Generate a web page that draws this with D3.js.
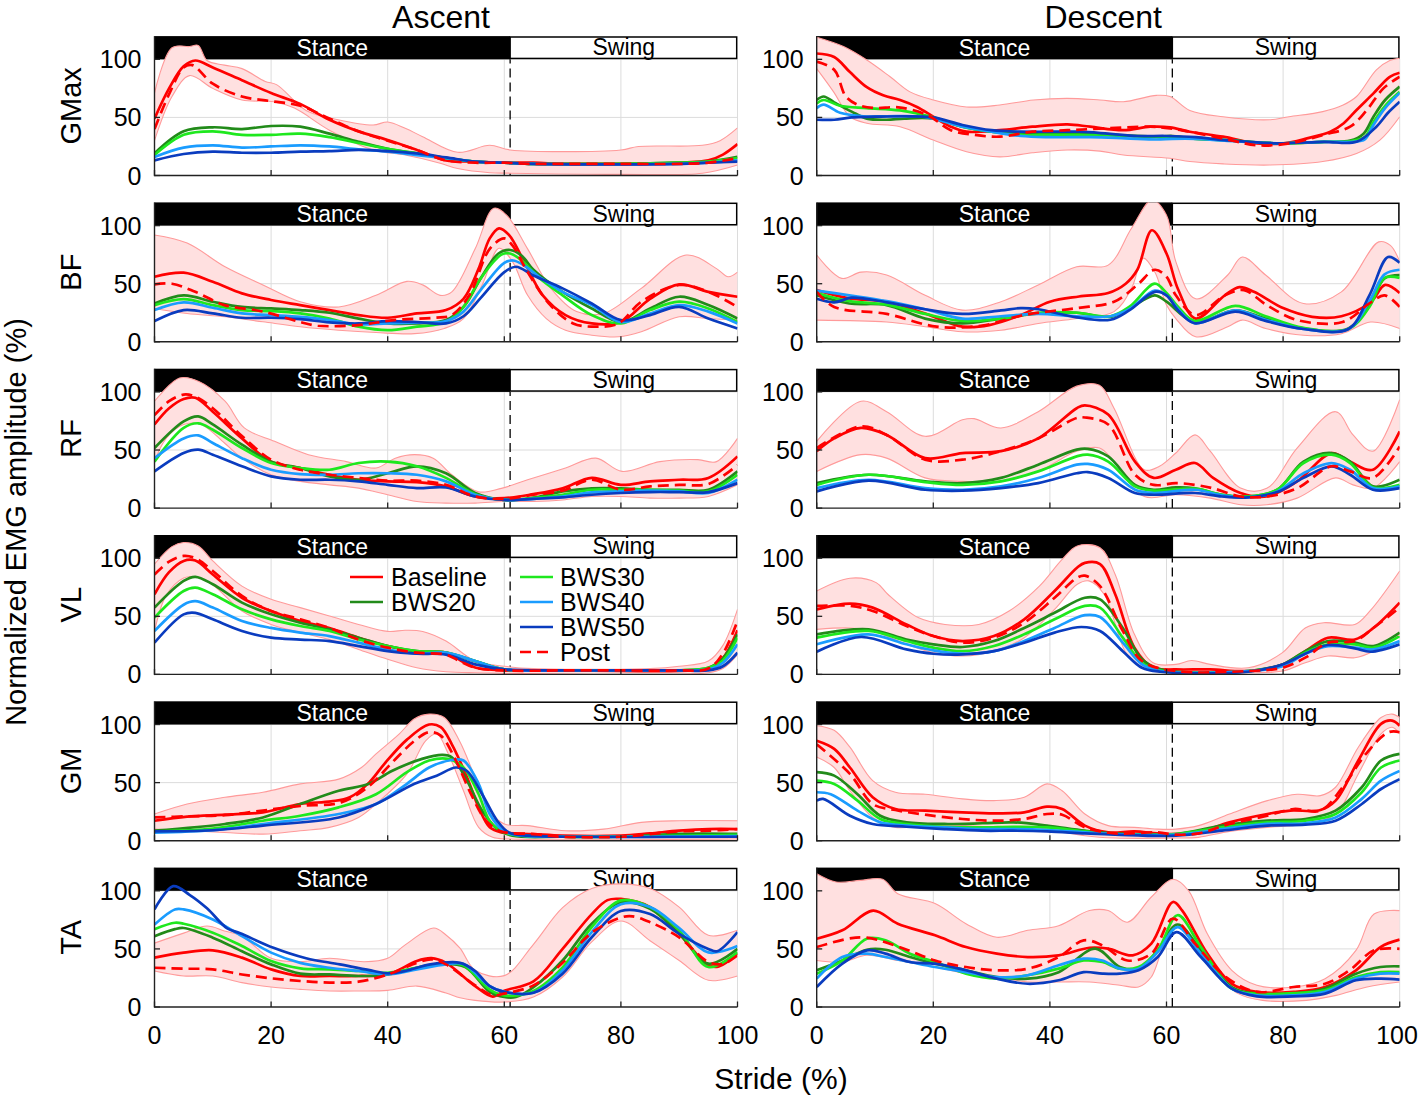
<!DOCTYPE html>
<html><head><meta charset="utf-8">
<script src="https://cdn.jsdelivr.net/npm/d3@7"></script>
<style>body{margin:0;background:#fff}text{font-family:"Liberation Sans",Arial,Helvetica,sans-serif}</style>
</head><body>
<svg id="c" width="1418" height="1096"></svg>
<script>
// ---------- categories / labels ----------
const muscles = ["GMax","BF","RF","VL","GM","TA"];
const tasks = ["Ascent","Descent"];
const taskKeys = ["A","D"];
const seriesNames = ["Baseline","BWS20","BWS30","BWS40","BWS50","Post"];
const xTicks = [0,20,40,60,80,100];
const yTicks = [0,50,100];
const phases = [{name:"Stance",from:0,to:61},{name:"Swing",from:61,to:100}];
const toeOff = 61;

// ---------- data: [stride %, normalized EMG %] ----------
const GMax_A_Baseline=[[0,49],[2.5,75],[5,94],[7,99],[10,93],[15,82],[20,71],[25,61.5],[30,48],[35,38],[40,30.5],[45,22],[50,13],[55,12],[60,11],[65,11],[70,10],[75,10],[80,10],[85,10],[90,11],[95,13],[97.5,18],[100,27]];
const GMax_A_BWS20=[[0,19],[5,38],[10,41.5],[15,40],[20,42.6],[25,42],[30,36],[35,29],[40,23],[45,19],[50,15],[55,12],[60,11],[65,10],[70,10],[80,10],[90,11],[95,12],[100,16]];
const GMax_A_BWS30=[[0,17.6],[5,35],[10,38],[15,35],[20,35],[25,36],[30,33],[35,28],[40,23],[45,19],[50,15],[55,12],[60,11],[65,10],[80,10],[90,11],[95,12],[100,15]];
const GMax_A_BWS40=[[0,16],[5,24],[10,26],[15,24],[20,25],[25,26],[30,25],[35,22.5],[40,20.5],[45,17.6],[50,15],[55,12],[60,11],[65,10],[90,10],[95,11],[100,13]];
const GMax_A_BWS50=[[0,13],[5,18.5],[10,20.5],[15,19.6],[20,19.6],[25,20.5],[30,21],[35,22],[40,21],[45,19],[50,15.6],[55,12],[60,11],[65,10],[90,10],[95,11],[100,12]];
const GMax_A_Post=[[0,40],[2.5,70],[5,93],[6.5,95],[10,79],[15,68],[20,64],[25,60],[30,49],[35,38],[40,30],[45,22],[50,13],[55,11],[60,11],[65,10],[70,10],[80,10],[90,10],[95,11],[100,15]];
const GMax_A_Upper=[[0,71],[3,110],[6,111],[7.5,112],[9,99],[12,95],[15,92],[19,81],[21,78],[26,56],[31.5,48],[37.5,43.5],[40,46],[43,40.6],[46,33.4],[52,20],[57.5,26],[61,22],[80,22],[83,25],[94,26],[97,30],[100,41]];
const GMax_A_Lower=[[0,30],[3,68],[6,86],[10,75],[15,65],[20.4,63.5],[24,58],[30,39],[37.5,22],[43,17.6],[49,10.5],[52,6],[57.5,2.4],[61,2],[80,1],[94,2],[100,9]];

const GMax_D_Baseline=[[0,105],[3,102],[5.7,89],[8.6,76],[11.4,69],[14.3,65],[17.2,59],[20,50.6],[23,42],[25.7,37.7],[31.4,39],[37,42],[43,44],[46.9,42],[52.6,39],[57.2,42],[60.6,41.5],[64,37.7],[69.7,33.4],[75.5,27.7],[80.1,27.7],[84.1,32],[88.1,37.7],[90.4,45],[92.6,56.4],[95.5,70.7],[98.3,85],[100,88.5]];
const GMax_D_BWS20=[[0,65],[1.2,68],[3,63],[6,55],[8.6,49],[12,48],[15,49],[20,49],[25,42],[30,37.7],[35,36],[40,36],[47,36],[53,34.5],[58.3,33.4],[61,34],[64,32],[70,30.5],[79,27.7],[87,29],[91.5,30],[93.8,36],[95.5,50.6],[97.5,65],[100,76.5]];
const GMax_D_BWS30=[[0,62],[1.2,65],[4,60],[8.6,58],[14.3,56],[20,50],[25,42],[30,37.7],[35,35],[40,35],[47,35],[53,34],[58.3,33],[61,33.5],[64,32],[70,30.5],[79,27.7],[87,29],[91.5,29.5],[94,33],[95.5,46],[97.5,60],[100,72]];
const GMax_D_BWS40=[[0,58],[1.2,61],[4,54],[8,51],[12,51],[17,51],[20,49],[25,42],[30,37.7],[35,34],[40,33],[47,33],[53,32],[58.3,31],[61,31.5],[65,31.5],[70,30],[79,27.7],[87,29],[92,29],[94,31],[95.5,43.5],[97.5,58],[100,71]];
const GMax_D_BWS50=[[0,48],[3,48],[6,50],[10,50.6],[15,51],[20,50],[25,43.5],[30,39],[35,37.7],[40,37.7],[45,37.7],[50,36],[55,34],[60,34],[65,33],[70,30.5],[79,27.7],[87,29],[92.6,29],[96,42],[98,54],[100,63.5]];
const GMax_D_Post=[[0,98],[3,91],[5,68],[7,61],[10,58],[14,58.7],[19,52],[23,39],[27,35],[31.4,33.4],[37,37.7],[43,39],[49.7,40.6],[57.2,42],[60.6,40.6],[64,37.7],[70.9,30.5],[75.5,26],[81.2,27.7],[86.9,35],[91.5,42],[94.3,56],[97.2,75],[100,85]];
const GMax_D_Upper=[[0,119],[4.6,111],[8.6,99.4],[12.6,85],[16,72],[20,65],[25.7,59],[31.4,60.7],[37.2,65],[42.9,66.4],[48.6,65],[52.6,63.5],[58.3,69],[60.6,68],[64,56],[69.7,50.6],[77.7,48],[81,50.6],[86.8,55],[90.3,60.7],[92.6,68],[96,91],[98.3,99],[100,101]];
const GMax_D_Lower=[[0,92],[2.9,72],[5.7,50.6],[8.6,45],[14.3,42],[20,30.5],[25.7,20.5],[31.4,16],[37,19.6],[43,22],[48.6,21],[52.6,17.6],[60.6,14.8],[64,12],[69.7,10],[77.7,9],[86.8,12],[92.6,19],[96.6,30.5],[100,50.6]];

const BF_A_Baseline=[[0,56],[5,59.5],[10,51.7],[15,41.7],[20,36],[25,31.6],[30,27.3],[35,23],[40,20.7],[45,24.4],[50,27.3],[53,37],[55.6,63],[57.5,89],[59.1,97.7],[60.8,92],[63.4,69],[66.6,40],[70.5,23],[75,15.8],[80,17],[85,37],[90,49.4],[95,43],[100,38.8]];
const BF_A_BWS20=[[0,33],[5,40],[10,34.5],[15,30],[20,28.7],[25,27.3],[30,25],[35,20],[40,15.8],[45,15.8],[50,18.7],[53,30],[56,55],[59,76],[61,79],[63,74],[65,62],[70,43],[75,28.7],[80,17],[85,28.7],[90,38.8],[95,31.6],[100,20]];
const BF_A_BWS30=[[0,31.6],[5,36.8],[10,31.6],[15,27.3],[20,26.4],[25,24.4],[30,20],[35,13],[40,10],[45,13],[50,17],[53,30],[56,55],[59.5,75],[61,76],[63,70],[66,55],[70,40],[75,23],[80,15.8],[85,27.3],[90,34.5],[95,28.7],[100,17]];
const BF_A_BWS40=[[0,27.3],[5,34],[10,29.3],[15,24.4],[20,23],[25,21.5],[30,18.7],[35,15],[40,15.8],[45,16.4],[50,17.8],[53,26],[56,45],[60,68],[61.5,70],[63,67],[66,56],[70,43],[75,31.6],[80,17],[85,24.4],[90,31.6],[95,26],[100,15.8]];
const BF_A_BWS50=[[0,17.8],[5,27.3],[10,24.4],[15,20.7],[20,20.7],[25,19.5],[30,16.7],[35,15.8],[40,17.8],[45,17],[50,15.8],[53,22],[56,38],[60,60],[62,64.6],[65,57],[70,46],[75,33],[80,18.7],[85,23],[90,30],[95,20],[100,11.5]];
const BF_A_Post=[[0,49.4],[3,50],[7,43],[12,31.6],[18.6,26],[25,17],[28,13.8],[35,14.4],[41,18.7],[48,20.7],[51,23],[54,40],[57.5,80],[60,89],[61.4,83],[64,60],[67.9,31.6],[71.8,15.8],[75.7,13],[79.6,15.8],[83.5,34.5],[90,48.9],[95,43],[100,30]];
const BF_A_Upper=[[0,92],[5.6,85],[12.1,64.6],[18.6,49],[25,34.5],[31.6,30],[38,40],[43.3,52],[46,49],[49,40],[51,43],[55,80],[58.2,115],[60.4,109],[64,80],[68,46],[72.4,26],[77,24.4],[83.5,46],[91.2,74.7],[96.4,63],[98.4,56],[100,60]];
const BF_A_Lower=[[0,28.7],[5.6,24.4],[12.1,21.5],[18.6,17.2],[25,13],[31.6,10],[38,8],[44.6,7],[49.7,11.5],[53,20],[56.2,48.9],[59.1,80.5],[61.4,69],[64,40],[67.2,20],[70.5,10],[75,5.7],[79.6,4.3],[83.5,8.6],[90,21.5],[95,20],[100,18.7]];

const BF_D_Baseline=[[0,44.5],[5.6,37.4],[12,34.5],[18.6,24.4],[25,13],[29.6,14.4],[35,23],[40,34.5],[45,39],[50,42],[53,50],[55,62],[57.5,96],[60,76],[62,45],[65,20],[70,40],[72.5,47],[75,43],[80,29],[85,21.5],[90,22],[95,34],[97.5,49],[100,42]];
const BF_D_BWS20=[[0,40],[5.6,33],[12,31.6],[18.6,20],[25,15.8],[31.6,20],[38,24.4],[44.6,25],[50.4,21.5],[53.6,28.7],[58,40],[60,34.5],[64.8,17],[71.8,27],[77,20],[83.5,11.5],[91.2,11.5],[94.8,31.6],[97.4,54.6],[100,57.5]];
const BF_D_BWS30=[[0,42],[5.6,35],[12,32],[18.6,24],[25,18],[31.6,20],[38,25],[44.6,25],[50.4,22],[53.6,30],[58,50],[60,42],[62,30],[64.8,18],[71.8,31],[77,22],[83.5,12],[91.2,11],[94.8,30],[97.4,55],[100,55]];
const BF_D_BWS40=[[0,44],[5.6,40],[12,35],[18.6,28],[25,20],[31.6,22],[38,24],[44.6,22],[50.4,22],[53.6,28],[58,44],[60,40],[62,28],[64.8,16],[71.8,27],[77,19],[83.5,11],[91.2,11],[94.8,35],[97.4,58],[100,62]];
const BF_D_BWS50=[[0,37],[3,34],[6,38],[12,34],[18.6,28],[25,24],[31.6,27],[35,29],[38,28],[44.6,21],[50.4,19],[53.6,27],[58,43],[60,40],[62,27],[64.8,16],[71.8,26],[77,18],[83.5,11],[91.2,11],[94.8,40],[98,73],[100,68]];
const BF_D_Post=[[0,43],[3,30],[12,24],[20.6,13],[28.4,14],[35.5,23],[44.6,29],[51,34.5],[55,49],[58,62],[60,56],[61.6,40],[65,23],[70,40],[73.3,44.5],[77.2,31.6],[82.4,18.7],[90.2,17],[94.8,33],[97.4,40],[100,30]];
const BF_D_Upper=[[0,74.7],[4.3,54.6],[7.6,60],[12,57.5],[18.6,40],[25,27.3],[31.6,34.5],[38,49],[44.6,64.6],[50,66],[54,97.7],[57.5,122],[60,109],[61.6,69],[65,37],[70.5,57.5],[73,73],[77,57.5],[83.5,33],[90,43],[96.4,86],[98.4,83],[100,69]];
const BF_D_Lower=[[0,18.7],[12,17],[18.6,13],[25,8.6],[31.6,10],[38,15.8],[44.6,20],[51,26],[54,46],[56,72],[58,60],[60,31.6],[61.6,20],[65,4.3],[70.5,13],[73,18.7],[77,11.5],[83.5,5.7],[90,7],[95,17],[100,11.5]];

const RF_A_Baseline=[[0,72],[2.5,86],[5,94],[7,95],[10,83],[15,60],[20,40],[25,34.5],[30,28.7],[35,24.4],[40,23],[45,22.4],[50,18.7],[55,10],[60,8.6],[65,12],[70,17],[75,26],[80,20],[85,23],[90,24.4],[95,26],[100,44.5]];
const RF_A_BWS20=[[0,51.7],[5,74.7],[7.5,79],[10,72],[15,54.6],[20,40],[25,34.5],[30,27.3],[35,24.4],[40,30],[45,36],[50,30],[55,13],[60,7],[65,9],[70,14.4],[75,17],[80,17],[85,15.8],[90,15.8],[95,15.8],[100,31.6]];
const RF_A_BWS30=[[0,40],[5,69],[7.5,73],[10,67.5],[15,51.7],[20,38.8],[25,34.5],[30,33],[35,38.8],[40,40],[45,36],[50,26],[55,12],[60,7],[65,8.6],[70,11.5],[75,15.8],[80,15.8],[85,15.8],[90,15],[95,14.4],[100,28.7]];
const RF_A_BWS40=[[0,43],[5,60],[7.5,62.6],[10,56],[15,43],[20,33],[25,29.3],[30,28.7],[35,30],[40,30],[45,28.7],[50,23],[55,11.5],[60,7],[65,8],[70,10],[75,13.5],[80,14.4],[85,15],[90,14.4],[95,13],[100,24.4]];
const RF_A_BWS50=[[0,31.6],[5,47.4],[7.5,50.3],[10,46],[15,36],[20,27.3],[25,24.4],[30,24.4],[35,23],[40,20],[45,17.2],[50,17.8],[55,10],[60,7],[65,8],[70,9.2],[75,11.5],[80,13],[85,13.8],[90,13.8],[95,13.8],[100,21.5]];
const RF_A_Post=[[0,80],[2.5,92],[5,97.7],[7,96],[10,86],[15,62],[20,41.7],[25,33],[30,28.7],[35,26],[40,23.6],[45,23.6],[50,20],[55,10],[60,8],[65,11.5],[70,15],[75,24.4],[80,15.8],[85,18.7],[90,20],[95,20.7],[100,37]];
const RF_A_Upper=[[0,92],[4.3,112],[7.6,109],[12.1,92],[15.4,69],[20.6,57.5],[26.4,46],[32.9,40],[38,34.5],[41.3,43],[44.6,46],[47.8,43],[51,28.7],[55.6,14],[59.5,17],[64,24.4],[70.5,34.5],[75.7,43],[80.2,31.6],[86.7,40],[93.2,41.7],[96.4,40],[100,60]];
const RF_A_Lower=[[0,40],[2,60],[5,72],[8,72],[12,56],[15,43],[20,28.7],[25,23],[30,20],[35,17.2],[40,11.5],[45,5.7],[50,4.3],[55,4.3],[60,5.7],[65,5.7],[70,7],[75,10],[80,10],[85,8.6],[90,8.6],[95,10],[100,20]];

const RF_D_Baseline=[[0,49],[3,60],[7.6,69],[12,63],[18.6,43],[25,47.4],[31.6,49],[38,60],[44.6,86],[46,88.5],[50,80.5],[54.6,40],[57.8,26],[61.6,33],[64.9,38.8],[68,26],[72.7,13],[77.2,10],[82.4,23],[88.3,47.4],[91.5,40],[95.4,33],[100,66]];
const RF_D_BWS20=[[0,21.5],[8.9,28.7],[18.6,23],[25,21.5],[31.6,26],[38,37.4],[44.6,50.3],[46.5,51],[50,44.5],[54.6,20],[57.8,15.8],[61.6,17.8],[64.9,17],[69.5,11.5],[74,10],[79,15.8],[83.5,40],[88.3,47.4],[91.5,40],[95.4,18.7],[100,24.4]];
const RF_D_BWS30=[[0,20],[8.9,28.7],[18.6,22.4],[25,20],[31.6,23],[38,31.6],[44.6,44.5],[46.5,46],[50,40],[54.6,18.7],[57.8,15],[64.9,16.7],[69.5,11.5],[74,10],[79,15.8],[83.5,38.8],[88.3,46],[91.5,38.8],[95.4,17.8],[100,20]];
const RF_D_BWS40=[[0,17.2],[8.9,24.4],[18.6,17.2],[25,15.8],[31.6,18.7],[38,25.9],[44.6,37.4],[46.5,38],[50,33],[54.6,15.8],[57.8,13],[64.9,15.8],[69.5,11],[74,9.2],[79,14.4],[83.5,30],[88.3,38.8],[91.5,33],[95.4,17.2],[100,18.7]];
const RF_D_BWS50=[[0,14.4],[8.9,23.6],[18.6,15.8],[25,15],[31.6,17.2],[38,21.5],[44.6,30],[46.5,31],[50,26],[54.6,13],[57.8,11.5],[64.9,13],[69.5,10],[74,9.2],[79,13.8],[83.5,26],[88.3,36],[91.5,28.7],[95.4,15.8],[100,17.2]];
const RF_D_Post=[[0,51.7],[7.6,70.4],[12,63],[18.6,41.7],[25,41.7],[31.6,49],[38,60],[44.6,77.6],[46,78],[50,72],[54.6,28.7],[57.8,20],[61.6,21.5],[64.9,20],[68,17],[72.7,10],[77.2,10],[82.4,17],[88.3,36],[91.5,31.6],[95.4,26],[100,53]];
const RF_D_Upper=[[0,57.5],[7.6,92],[12,83],[18.6,61.8],[25,76],[27,77],[31.6,69],[38,83],[44.6,105],[48.5,105.7],[51,86],[56.2,33],[58.8,36],[61.6,47.4],[64.9,63],[67.5,49],[72.7,17.2],[77.2,17],[82.4,51.7],[89,83],[92,63],[95.4,49],[100,93.4]];
const RF_D_Lower=[[0,31.6],[7.6,46],[12,43],[18.6,26],[25,23],[31.6,23],[38,31.6],[44.6,48.9],[48.5,51.7],[51,40],[56.2,10],[61.6,11.5],[67.5,8.6],[72.7,2.9],[77.2,2.9],[82.4,8.6],[89,26],[92,20],[95.4,17.2],[100,40]];

const VL_A_Baseline=[[0,69],[2.5,88],[5,97.7],[7,98],[10,86],[15,66],[20,54.6],[25,46],[30,40],[35,31.6],[40,24.4],[45,19.5],[50,18.7],[52.5,12],[55,6],[60,3.4],[70,3.4],[80,3],[90,3],[95,5],[97.5,14],[100,38]];
const VL_A_BWS20=[[0,57.5],[5,80.5],[7,84],[10,77.6],[15,61.8],[20,51.7],[25,44.5],[30,38.8],[35,31.6],[40,24.4],[45,20],[50,18.7],[55,11.5],[60,4.3],[70,3.4],[80,3.4],[90,3.4],[95,5.7],[97.5,14],[100,34.5]];
const VL_A_BWS30=[[0,48.9],[5,71.8],[7,74.7],[10,69],[15,56],[20,47.4],[25,41.7],[30,37.4],[35,30],[40,24.4],[45,20],[50,18.7],[55,11.5],[60,4.3],[70,3.4],[80,3.4],[90,3.4],[95,5.7],[97.5,12],[100,31.6]];
const VL_A_BWS40=[[0,37.4],[5,60],[7,63],[10,57.5],[15,46],[20,40],[25,36],[30,33],[35,27.3],[40,21.5],[45,17.8],[50,18.7],[55,11.5],[60,4.3],[70,3.4],[80,3.4],[90,3.4],[95,4.3],[97.5,10],[100,26]];
const VL_A_BWS50=[[0,27.3],[5,51.7],[7,53],[10,47.4],[15,37.4],[20,31.6],[25,30],[30,28.7],[35,24.4],[40,20],[45,17.8],[50,17],[55,8.6],[60,4.3],[70,3.4],[80,3.4],[90,3.4],[95,3.4],[97.5,7],[100,18.7]];
const VL_A_Post=[[0,86],[2.5,97],[5,102],[7,100],[10,89],[15,67.5],[20,54.6],[25,47.4],[30,40],[35,30],[40,23],[45,18.7],[50,17],[52.5,11],[55,5.7],[60,3.4],[70,3.4],[80,3.4],[90,3.4],[95,5],[97.5,18],[100,46]];
const VL_A_Upper=[[0,95],[3,110],[5,113.5],[7.5,110.6],[10,97.7],[15,76],[20,64.6],[25,57.5],[30,50.3],[35,43],[40,37],[43,38],[46,37],[50,28.7],[55,11.5],[60,7],[65,5],[85,5],[90,7],[95,11.5],[97.5,25],[100,56]];
const VL_A_Lower=[[0,37],[2,68],[5,83],[7,84],[10,77],[15,54.6],[20,43],[25,36],[30,30],[35,21.5],[40,13],[45,5.7],[50,2.3],[55,1.4],[95,1.4],[97.5,5],[100,17]];

const VL_D_Baseline=[[0,56],[5.7,61],[9.6,57.5],[15.4,43],[20,33],[25,28.7],[30.4,33],[35.6,47.4],[40.8,71.8],[44.7,92],[46,96],[48.6,95],[51.2,69],[54.5,23],[57.7,5.7],[61.6,4.3],[67.5,4.3],[74,2.9],[79.9,8.6],[83.8,20],[87.7,31.6],[92.3,30],[95.5,40],[100,61.8]];
const VL_D_BWS20=[[0,34.5],[8.9,38.8],[15.4,30],[20,25.9],[25,23.6],[30.4,28.7],[35.6,40],[40.8,53],[46,66],[48.6,64.6],[52.5,40],[55.8,13],[59,4.3],[74,2.9],[79.9,8.6],[83.8,20],[87.7,28.7],[92.3,27.3],[95.5,24.4],[100,36]];
const VL_D_BWS30=[[0,31.6],[8.9,37.4],[15.4,28.7],[20,23],[25,20],[30.4,24.4],[35.6,34.5],[40.8,47.4],[46,59],[48.6,57.5],[52.5,31.6],[55.8,10],[59,3.4],[74,2.9],[79.9,8],[83.8,18.7],[87.7,25.9],[92.3,25.9],[95.5,23],[100,33]];
const VL_D_BWS40=[[0,25.9],[8.9,34.5],[15.4,25.9],[20,20.7],[25,17.8],[30.4,20],[35.6,28.7],[40.8,40],[46,51],[48.6,49.4],[52.5,27.3],[55.8,8.6],[59,2.9],[74,2.9],[79.9,7],[83.8,17.8],[87.7,24.4],[92.3,23],[95.5,21.5],[100,28.7]];
const VL_D_BWS50=[[0,19.5],[7.6,32.2],[15.4,21.5],[20,17.8],[25,17.2],[30.4,20],[35.6,27.3],[40.8,36],[45.4,40.8],[48.6,37.4],[52.5,20],[55.8,5.7],[59,2.3],[74,2.3],[79.9,8.6],[83.8,17.8],[87.7,25.3],[92.3,22.4],[95,19.5],[100,25.9]];
const VL_D_Post=[[0,59],[5.7,59],[9.6,54.6],[15.4,41.7],[20,33],[25,27.3],[30.4,31.6],[35.6,44.5],[40.8,66],[44.7,83.3],[46,85],[48.6,76],[52.5,37.4],[55.8,11.5],[61.6,2.9],[74,2.9],[79.9,5.7],[83.8,14.4],[87.7,27.3],[92.3,28.7],[95.5,40],[100,57.5]];
const VL_D_Upper=[[0,71.8],[5.7,82.8],[10.2,79],[12.2,69],[17.4,48.9],[22,43],[27.8,43],[33,54.6],[38.2,76],[42.1,99],[44.7,110.6],[48.6,109],[51.2,86],[54.5,34.5],[57.7,10],[61.6,8.6],[64.3,12],[67.5,8.6],[74,5.7],[79.9,18.7],[83.8,40],[87,44.5],[92.3,43],[94.9,54.6],[100,89]];
const VL_D_Lower=[[0,38.8],[5.7,40],[9.6,37.4],[15.4,25.9],[20,18.7],[25,15.8],[30.4,20],[35.6,31.6],[40.8,56],[44.7,77.6],[46.7,80.5],[49.3,69],[53.2,17.2],[56.4,4.3],[61.6,1.4],[74,1.4],[79.9,2.9],[83.8,10],[87.7,15.8],[92.3,14.4],[95.5,20],[100,34.5]];

const GM_A_Baseline=[[0,17.2],[5.6,20.7],[12.1,22.4],[18.6,24.4],[25,31.6],[30.3,33.9],[33.5,37.4],[36.8,50],[39.4,66],[43.3,87],[47.1,100],[49.1,97.7],[51,83],[53.6,54.6],[55.6,28.7],[57.5,11.5],[59.5,7.2],[65,5.7],[70,4.3],[80,4.3],[85,6.3],[90,8.6],[95,10],[100,10]];
const GM_A_BWS20=[[0,8.6],[12.1,14.4],[18.6,20],[25,31.6],[31.6,43],[36.8,49],[40.7,60],[45.9,70.4],[49.4,73.8],[51,71.8],[53.6,51.7],[56.2,25.9],[58.8,10],[61.4,4.3],[70,3.4],[80,3.4],[90,6],[100,6]];
const GM_A_BWS30=[[0,8],[10,10.5],[18.6,17.2],[25,21.5],[31.6,28.7],[38,40],[43.3,59],[47.1,69],[50.4,70.4],[53,63],[55.6,40],[57.5,17],[60,7],[63,4.3],[70,3.4],[100,5]];
const GM_A_BWS40=[[0,7],[10,9],[18.6,14.4],[31.6,23],[38,31.6],[43.3,49],[47.1,63],[51,69.5],[53,69],[55.6,49],[57.5,23],[60,8],[63,4.3],[70,3.4],[100,4]];
const GM_A_BWS50=[[0,8],[10,9],[18.6,13],[31.6,20],[38,31.6],[44.6,49],[48.4,56],[51.7,63],[53.6,60],[56.2,40],[58.8,17],[60.8,7],[64,4.3],[70,3.4],[100,3.4]];
const GM_A_Post=[[0,20],[5.6,21],[12.1,22],[18.6,26],[25,30],[32,33],[36.8,47],[40.7,67],[44.6,86],[47.1,93.4],[49.1,90.5],[51.7,69],[54.3,40],[56.9,17],[59.5,8],[65,5.7],[70,3.4],[80,3.4],[85,5.7],[90,8],[95,8.6],[100,10]];
const GM_A_Upper=[[0,23],[5.6,31.6],[12.1,37.4],[18.6,41.7],[25,48.9],[31.6,53],[35.5,63],[38,74.7],[42,92],[44.6,105],[47.1,109],[49.7,106],[52.3,86],[55,54.6],[57.5,25.9],[60,14.4],[64,13],[70.5,8.6],[77,10],[83.5,15.8],[90,17.2],[100,17.2]];
const GM_A_Lower=[[0,10],[12,7],[18.6,5.7],[25,8.6],[30,11.5],[35,20],[38,31.6],[43.3,57.5],[46.5,86],[48.4,92],[50.4,74.7],[53,43],[55.6,11.5],[58,2.9],[61,1.4],[100,1.4]];

const GM_D_Baseline=[[0,86],[3,79],[5.7,63],[9.6,37.4],[13.5,27.3],[18.6,25.9],[25,24.4],[30.4,23.6],[35.6,24.4],[39.5,29.3],[42.1,27.3],[46,13],[50,7.2],[54.5,8],[58.4,6.3],[61.6,5.7],[65.5,7.2],[70.8,15.8],[77.3,23],[81.2,25.9],[86.4,26.4],[89,34.5],[92.9,69],[96.8,100.6],[98.7,103.4],[100,99]];
const GM_D_BWS20=[[0,59],[3,56],[7,40],[10.9,21.5],[15.4,15.8],[21.9,14.4],[28.4,15],[33.7,15.8],[39.5,13],[46,8.6],[51.2,6.3],[61.6,5.7],[69.5,13],[77.3,17.2],[83.8,18.7],[89,25.9],[93.5,46],[96.8,69],[100,74.7]];
const GM_D_BWS30=[[0,51.7],[3,48.9],[7,34.5],[10.9,18.7],[15.4,14.4],[21.9,12],[28.4,11.5],[33.7,12],[39.5,11.5],[46,8],[51.2,5.7],[61.6,5.7],[69.5,11.5],[77.3,15.8],[83.8,17.2],[89,23],[93.5,41.7],[96.8,63],[100,69]];
const GM_D_BWS40=[[0,41.7],[2.4,40],[7,25.9],[10.9,15.8],[15.4,13],[21.9,11.5],[28.4,10],[33.7,10],[39.5,9.2],[46,7.2],[51.2,5.7],[61.6,5.2],[69.5,10],[77.3,14.4],[83.8,15],[89,20],[93.5,36],[96.8,51.7],[100,60]];
const GM_D_BWS50=[[0,34.5],[1.1,36],[5.7,21.5],[9.6,14.4],[15.4,12],[21.9,10],[28.4,8.6],[33.7,8.6],[39.5,8],[46,6.3],[51.2,5.2],[61.6,4.3],[69.5,8.6],[77.3,13],[83.8,13.8],[89,17.2],[93.5,31.6],[96.8,44.5],[100,53]];
const GM_D_Post=[[0,83],[5.7,57.5],[9.6,31.6],[13.5,26.4],[18.6,22.4],[25,18.7],[30.4,17.2],[35.6,18.7],[39.5,23],[42.1,22.4],[46,11.5],[51.2,6.3],[58.4,7.2],[61.6,5.2],[65.5,6.3],[70.8,14.4],[77.3,21.5],[81.8,27.3],[86.4,25.9],[90.2,46],[94.2,74.7],[98.1,93.4],[100,93.4]];
const GM_D_Upper=[[0,99],[3,95],[5.7,80.5],[9.6,51.7],[13.5,41.7],[18.6,40],[25,36],[30.4,34.5],[35.6,37.4],[39.5,48.9],[42.1,43],[46,23],[50,13],[54.5,11.5],[58.4,10],[61.6,10],[65.5,13],[70.8,23],[77.3,34.5],[82.4,40],[86.4,38.8],[89,46],[92.9,80.5],[96.8,106],[98.7,109],[100,106]];
const GM_D_Lower=[[0,72],[3,63],[5.7,43],[9.6,20],[13.5,11.5],[18.6,13],[25,13],[30.4,12],[35.6,12],[39.5,10],[46,4.3],[51.2,2.3],[61.6,2.3],[65.5,2.9],[70.8,8],[77.3,11.5],[83.8,14.4],[89,23],[92.9,57.5],[96.8,92],[98.7,97.7],[100,92]];

const TA_A_Baseline=[[0,42.5],[5,46.8],[10,48.8],[15,42.5],[20,32.4],[25,26.7],[30,26.7],[35,26.7],[40,28],[45,39.6],[47.5,42],[50,38],[55,18],[58,9],[60,14],[65,22],[70,50],[75,80],[77.7,92],[80,93],[85,86],[90,63],[95,36],[96.8,35],[100,46]];
const TA_A_BWS20=[[0,61],[3.5,67],[5,68],[10,59.7],[15,48],[20,36.7],[25,28.7],[30,28],[35,26.7],[40,28],[45,33.8],[49,37],[53.3,34.4],[57.5,13],[60,8.6],[62,8.6],[65,17],[70,40],[75,71.7],[80,90],[85,84.5],[90,63],[95,37.3],[100,50]];
const TA_A_BWS30=[[0,67],[3.5,72.5],[5,71.7],[10,64],[15,52.5],[20,39.6],[25,33.3],[30,32.4],[35,31],[40,29.5],[45,33.8],[50,37.3],[53,36],[57.5,15],[60,10],[65,13.8],[70,34],[75,68.8],[80,91.8],[85,86],[90,66],[95,34.4],[100,47.3]];
const TA_A_BWS40=[[0,71],[3.5,84],[5,84],[10,75.4],[15,61],[20,46.8],[25,38],[30,33.8],[35,31],[40,28],[45,32.4],[50,36.7],[53,37],[57.5,18],[60,13],[65,12.3],[70,31.5],[75,64.5],[80,88.4],[85,86],[90,68],[95,47],[100,52.5]];
const TA_A_BWS50=[[0,84],[3.2,104],[6,96.6],[9,85],[12.4,68],[14.7,63.5],[20.4,51],[26,42],[31.8,36.7],[37.6,31],[40,29],[43,31],[47.3,36.7],[52.4,38],[55,31],[57.5,18],[60,13],[65,12.3],[70,28.7],[75,60],[80,82.6],[85,80],[90,63],[95,50],[96.5,48],[100,64.5]];
const TA_A_Post=[[0,33.8],[5,33],[10,32.4],[15,28],[20,24.7],[25,22.4],[30,21],[35,21.8],[40,28],[45,38],[47.5,41],[50,36.7],[55,18.6],[58,10],[60,11.5],[65,18.6],[70,38],[75,64],[80,77],[82,78],[85,73],[90,60],[95,38.7],[97.5,37],[100,44.5]];
const TA_A_Upper=[[0,55],[5,63.6],[9,69.7],[12,65.5],[15,61],[20,42],[25,39],[30,42],[36,39],[40,42],[43,53.5],[47.9,68],[50,62],[52.4,50.6],[55,31.6],[60,27],[65,54],[70,85.5],[75,102],[80,106],[85,102],[90,86],[95,61.7],[100,66]];
const TA_A_Lower=[[0,31],[5,26.7],[10,26.7],[15,21],[20,17.2],[25,15.2],[30,13.8],[35,13.8],[40,14.3],[45,18],[50,12],[52.4,8],[55,5.7],[60,4.3],[65,8.6],[70,25.8],[75,56],[80,74],[85,57],[90,40],[95,23],[100,26.7]];

const TA_D_Baseline=[[0,58.8],[4.4,66],[9.7,83],[13.9,71.7],[20.3,61.7],[25.6,51.6],[30.9,45.9],[36.2,43],[41.5,44.5],[46.8,51],[50,50.2],[54.2,44.5],[57.4,54.5],[61.1,90.4],[62.7,83],[67,46],[71.2,20],[75.5,13],[81.8,13],[87.2,17.2],[92.5,31.6],[96.7,51.6],[100,58]];
const TA_D_BWS20=[[0,31.6],[4.4,40],[8.6,49.3],[11.8,49.3],[16,43],[20.3,37.3],[25.6,31.6],[30.9,25.8],[36.2,24.4],[41.5,30],[47.8,50.2],[52,34.4],[55.2,33],[58.5,48.8],[61.9,71],[65.9,48.8],[71.2,17.2],[75.5,11.5],[81.8,11.5],[87.2,15.8],[92.5,28.7],[96.7,34.4],[100,35]];
const TA_D_BWS30=[[0,28.7],[4.4,40],[8.6,58.8],[11.8,57.4],[16,45.9],[20.3,38.7],[25.6,28.7],[30.9,24.4],[36.2,27.3],[41.5,33],[45.8,40],[49,38.7],[52,33],[55.2,34.4],[58.5,48.8],[61.9,79],[65.9,51.6],[71.2,15.8],[75.5,11.5],[81.8,12],[87.2,14.3],[92.5,25.8],[96.7,30],[100,30]];
const TA_D_BWS40=[[0,24.4],[4.4,43],[8.6,45.9],[11.8,43],[16,38.7],[20.3,34.4],[25.6,30],[30.9,25.8],[36.2,27.3],[41.5,35.9],[45.8,41.6],[49,40],[52,33],[55.2,33],[58.5,47.3],[61.9,68.8],[65.9,45.9],[71.2,15.8],[75.5,10],[81.8,10],[87.2,13],[92.5,24.4],[96.7,28.7],[100,28.7]];
const TA_D_BWS50=[[0,17.2],[4.4,37.3],[8.6,48.8],[11.8,45.9],[16,38.7],[20.3,37.3],[25.6,31.6],[30.9,24.4],[36.2,20],[41.5,23],[45.8,30],[49,28.7],[52,28.7],[55.2,31.6],[58.5,43],[61.7,64.5],[65.9,43],[71.2,15.8],[75.5,9.2],[81.8,9.2],[87.2,11.5],[92.5,23],[96.7,24.4],[100,23.5]];
const TA_D_Post=[[0,51.6],[5.4,58.8],[8.6,59.7],[15,50.2],[20.3,40],[25.6,34.4],[30.9,31.6],[36.2,33],[41.5,43],[45.8,57.4],[49,53],[53.3,40],[57.4,45.9],[61.1,76],[64.9,54.5],[70.2,25.8],[75.5,13],[81.8,17.2],[87.2,20],[91.4,31.6],[95.6,48.8],[100,50]];
const TA_D_Upper=[[0,114.7],[3.3,107.6],[7.5,109],[11.3,110],[13.9,97.5],[20.3,89],[25.6,71.7],[30.9,60],[36.2,66],[41.5,70],[46.8,83],[50,83],[53.3,73],[57.4,94.7],[61.1,110],[63.8,100],[67,63],[71.2,31.6],[75.5,18.7],[81.8,17.2],[87.2,24.4],[92.5,48.8],[95.6,80],[100,83]];
const TA_D_Lower=[[0,40],[4.4,38.7],[8.6,44.5],[13.9,40],[20.3,34.4],[25.6,28.7],[30.9,25.8],[36.2,21.5],[41.5,21.5],[46.8,21.5],[52,18.7],[55.2,17.2],[57.4,25.8],[61.1,70],[63.8,61.7],[68,31.6],[72.3,11.5],[76.5,5.7],[84,5.7],[89.1,10],[94.4,17.2],[100,21.5]];

// ---------- table built from the arrays ----------
function pack(b,s20,s30,s40,s50,p,u,l){return {series:{Baseline:b,BWS20:s20,BWS30:s30,BWS40:s40,BWS50:s50,Post:p},upper:u,lower:l};}
const D={
 GMax_A:pack(GMax_A_Baseline,GMax_A_BWS20,GMax_A_BWS30,GMax_A_BWS40,GMax_A_BWS50,GMax_A_Post,GMax_A_Upper,GMax_A_Lower),
 GMax_D:pack(GMax_D_Baseline,GMax_D_BWS20,GMax_D_BWS30,GMax_D_BWS40,GMax_D_BWS50,GMax_D_Post,GMax_D_Upper,GMax_D_Lower),
 BF_A:pack(BF_A_Baseline,BF_A_BWS20,BF_A_BWS30,BF_A_BWS40,BF_A_BWS50,BF_A_Post,BF_A_Upper,BF_A_Lower),
 BF_D:pack(BF_D_Baseline,BF_D_BWS20,BF_D_BWS30,BF_D_BWS40,BF_D_BWS50,BF_D_Post,BF_D_Upper,BF_D_Lower),
 RF_A:pack(RF_A_Baseline,RF_A_BWS20,RF_A_BWS30,RF_A_BWS40,RF_A_BWS50,RF_A_Post,RF_A_Upper,RF_A_Lower),
 RF_D:pack(RF_D_Baseline,RF_D_BWS20,RF_D_BWS30,RF_D_BWS40,RF_D_BWS50,RF_D_Post,RF_D_Upper,RF_D_Lower),
 VL_A:pack(VL_A_Baseline,VL_A_BWS20,VL_A_BWS30,VL_A_BWS40,VL_A_BWS50,VL_A_Post,VL_A_Upper,VL_A_Lower),
 VL_D:pack(VL_D_Baseline,VL_D_BWS20,VL_D_BWS30,VL_D_BWS40,VL_D_BWS50,VL_D_Post,VL_D_Upper,VL_D_Lower),
 GM_A:pack(GM_A_Baseline,GM_A_BWS20,GM_A_BWS30,GM_A_BWS40,GM_A_BWS50,GM_A_Post,GM_A_Upper,GM_A_Lower),
 GM_D:pack(GM_D_Baseline,GM_D_BWS20,GM_D_BWS30,GM_D_BWS40,GM_D_BWS50,GM_D_Post,GM_D_Upper,GM_D_Lower),
 TA_A:pack(TA_A_Baseline,TA_A_BWS20,TA_A_BWS30,TA_A_BWS40,TA_A_BWS50,TA_A_Post,TA_A_Upper,TA_A_Lower),
 TA_D:pack(TA_D_Baseline,TA_D_BWS20,TA_D_BWS30,TA_D_BWS40,TA_D_BWS50,TA_D_Post,TA_D_Upper,TA_D_Lower)
};

// ---------- styles ----------
const colors={Baseline:"#ff0000",BWS20:"#228b1a",BWS30:"#1ee81e",BWS40:"#1a9cff",BWS50:"#0a3cbf",Post:"#ff0000"};
const dashes={Post:"11,6"};

// ---------- layout ----------
const colX0=[154.5,816.7], panelW=583;
const rowBase0=175.5, rowStep=166.3, panelH=139.4;

const svg=d3.select("#c");
svg.append("rect").attr("width",1418).attr("height",1096).attr("fill","#fff");

muscles.forEach((m,ri)=>{
  taskKeys.forEach((tk,ci)=>{
    const key=m+"_"+tk, pd=D[key];
    const x0=colX0[ci], y0=rowBase0+rowStep*ri;
    const x=d3.scaleLinear().domain([0,100]).range([x0,x0+panelW]);
    const y=d3.scaleLinear().domain([0,120]).range([y0,y0-panelH]);
    const g=svg.append("g");
    const cid="clip_"+key;
    g.append("clipPath").attr("id",cid).append("rect")
      .attr("x",x(0)).attr("y",y(120)).attr("width",x(100)-x(0)).attr("height",y(0)-y(120));

    // grid
    g.selectAll(null).data(xTicks.filter(t=>t>0)).enter().append("line")
      .attr("x1",d=>x(d)).attr("x2",d=>x(d)).attr("y1",y(0)).attr("y2",y(100))
      .attr("stroke","#dcdcdc").attr("stroke-width",1);
    g.selectAll(null).data(yTicks.filter(t=>t>0)).enter().append("line")
      .attr("x1",x(0)).attr("x2",x(100)).attr("y1",d=>y(d)).attr("y2",d=>y(d))
      .attr("stroke","#dcdcdc").attr("stroke-width",1);

    // phase bars
    const st=phases[0], sw=phases[1];
    g.append("rect").attr("x",x(st.from)).attr("y",y(120)).attr("width",x(st.to)-x(st.from)).attr("height",y(100)-y(120)).attr("fill","#000");
    g.append("rect").attr("x",x(sw.from)).attr("y",y(120)+0.9).attr("width",x(sw.to)-x(sw.from)-0.8).attr("height",y(100)-y(120)-1.8)
      .attr("fill","#fff").attr("stroke","#000").attr("stroke-width",1.5);
    g.append("text").attr("x",x((st.from+st.to)/2)).attr("y",y(100)-3.5).attr("text-anchor","middle")
      .attr("fill","#fff").attr("font-size",23).text(st.name);
    g.append("text").attr("x",x((sw.from+sw.to)/2)).attr("y",y(100)-4).attr("text-anchor","middle")
      .attr("fill","#000").attr("font-size",23).text(sw.name);

    // toe-off divider
    g.append("line").attr("x1",x(toeOff)).attr("x2",x(toeOff)).attr("y1",y(0)).attr("y2",y(100))
      .attr("stroke","#000").attr("stroke-width",1.3).attr("stroke-dasharray","9,5");

    const line=d3.line().x(d=>x(d[0])).y(d=>y(d[1])).curve(d3.curveCatmullRom.alpha(0.5));
    const cg=g.append("g").attr("clip-path",`url(#${cid})`);

    // SD band of baseline
    const up=line(pd.upper);
    const lo=line(pd.lower.slice().reverse());
    cg.append("path").attr("d",up+"L"+lo.slice(1)+"Z").attr("fill","#ffe0e0").attr("stroke","none");
    [pd.upper,pd.lower].forEach(b=>{
      cg.append("path").attr("d",line(b)).attr("fill","none").attr("stroke","#ff9a9a").attr("stroke-width",1.1);
    });

    // series
    seriesNames.forEach(s=>{
      cg.append("path").attr("d",line(pd.series[s])).attr("fill","none")
        .attr("stroke",colors[s]).attr("stroke-width",2.7)
        .attr("stroke-dasharray",dashes[s]||null).attr("stroke-linejoin","round");
    });

    // axes
    g.append("line").attr("x1",x(0)).attr("x2",x(0)).attr("y1",y(0)+0.7).attr("y2",y(120)).attr("stroke","#222").attr("stroke-width",1.4);
    g.append("line").attr("x1",x(0)).attr("x2",x(100)).attr("y1",y(0)).attr("y2",y(0)).attr("stroke","#222").attr("stroke-width",1.4);
    g.selectAll(null).data(xTicks).enter().append("line")
      .attr("x1",d=>x(d)).attr("x2",d=>x(d)).attr("y1",y(0)).attr("y2",y(0)-5.5).attr("stroke","#222").attr("stroke-width",1.3);
    g.selectAll(null).data(yTicks).enter().append("line")
      .attr("x1",x(0)).attr("x2",x(0)+5.5).attr("y1",d=>y(d)).attr("y2",d=>y(d)).attr("stroke","#222").attr("stroke-width",1.3);
    g.selectAll(null).data(yTicks).enter().append("text")
      .attr("x",x(0)-13).attr("y",d=>y(d)).attr("dy","0.36em").attr("text-anchor","end")
      .attr("font-size",25).attr("fill","#000").text(d=>d);
    if(ri===muscles.length-1){
      g.selectAll(null).data(xTicks).enter().append("text")
        .attr("x",d=>Math.min(x(d),1418-21)).attr("y",y(0)+37).attr("text-anchor","middle")
        .attr("font-size",25).attr("fill","#000").text(d=>d);
    }
    if(ri===0){
      g.append("text").attr("x",x(50)-5).attr("y",28).attr("text-anchor","middle")
        .attr("font-size",32).attr("fill","#000").text(tasks[ci]);
    }
    if(ci===0){
      const cy=y(60);
      g.append("text").attr("transform",`translate(81,${cy}) rotate(-90)`).attr("text-anchor","middle")
        .attr("font-size",29).attr("fill","#000").text(m);
    }
    // legend inside VL ascent panel
    if(m==="VL" && tk==="A"){
      const items=[
        {s:"Baseline",lx:350,tx:391,ly:577},{s:"BWS20",lx:350,tx:391,ly:602},
        {s:"BWS30",lx:520,tx:560,ly:577},{s:"BWS40",lx:520,tx:560,ly:602},
        {s:"BWS50",lx:520,tx:560,ly:627},{s:"Post",lx:520,tx:560,ly:652}];
      const lg=g.append("g");
      items.forEach(it=>{
        lg.append("line").attr("x1",it.lx).attr("x2",it.lx+33).attr("y1",it.ly).attr("y2",it.ly)
          .attr("stroke",colors[it.s]).attr("stroke-width",2.7).attr("stroke-dasharray",dashes[it.s]||null);
        lg.append("text").attr("x",it.tx).attr("y",it.ly).attr("dy","0.36em").attr("font-size",25).attr("fill","#000").text(it.s);
      });
    }
  });
});

// global axis labels
svg.append("text").attr("transform","translate(26,522) rotate(-90)").attr("text-anchor","middle")
  .attr("font-size",29).attr("fill","#000").text("Normalized EMG amplitude (%)");
svg.append("text").attr("x",781).attr("y",1089).attr("text-anchor","middle")
  .attr("font-size",30).attr("fill","#000").text("Stride (%)");
</script>
</body></html>
